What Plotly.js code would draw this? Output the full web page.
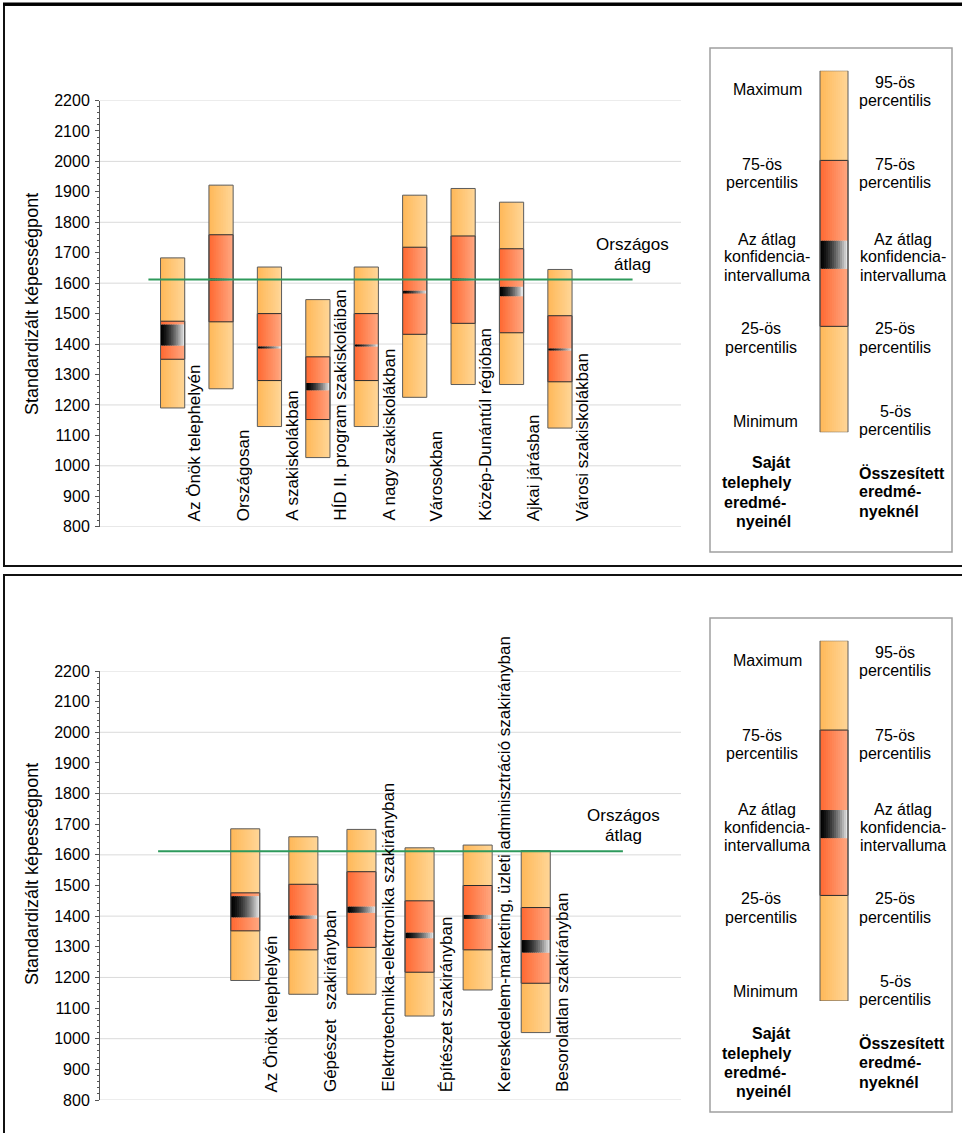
<!DOCTYPE html>
<html><head><meta charset="utf-8">
<script src="https://cdn.plot.ly/plotly-3.0.1.min.js"></script>
<style>body{margin:0;padding:0;background:#fff}#chart{width:962px;height:1133px}</style>
</head><body><div id="chart"></div>
<script>
// ---------- DATA ----------
const topCategories = ["Az Önök telephelyén","Országosan","A szakiskolákban","HÍD II. program szakiskoláiban","A nagy szakiskolákban","Városokban","Közép-Dunántúl régióban","Ajkai járásban","Városi szakiskolákban"];
const topPos    = [0,1,2,3,4,5,6,7,8];
const topLow    = [1190,1253,1129,1027,1129,1225,1267,1267,1124];
const topQ1     = [1350,1473,1280,1152,1280,1432,1468,1437,1276];
const topCILow  = [1395,1609,1386,1248,1392,1569,1609,1557,1379];
const topCIHigh = [1464,1615,1392,1272,1398,1575,1615,1588,1385];
const topQ3     = [1475,1759,1500,1358,1500,1718,1755,1713,1493];
const topHigh   = [1683,1922,1653,1546,1653,1889,1911,1866,1645];

const botCategories = ["Az Önök telephelyén","Gépészet\u00a0\u00a0szakirányban","Elektrotechnika-elektronika szakirányban","Építészet szakirányban","Kereskedelem-marketing, üzleti adminisztráció szakirányban","Besorolatlan szakirányban"];
const botPos    = [0,1,2,3,4,5];
const botLow    = [1190,1145,1145,1074,1159,1020];
const botQ1     = [1352,1290,1298,1217,1290,1181];
const botCILow  = [1396,1391,1411,1328,1391,1281];
const botCIHigh = [1465,1402,1431,1346,1404,1322];
const botQ3     = [1476,1504,1545,1450,1500,1428];
const botHigh   = [1685,1659,1683,1623,1632,1614];

const nationalAverage = 1612;
const avgLineTopX = [-0.5, 9.5];
const avgLineBotX = [-1.5, 6.5];

const yTickVals = [800,900,1000,1100,1200,1300,1400,1500,1600,1700,1800,1900,2000,2100,2200];
const gridVals  = [800,1000,1200,1400,1600,1800,2000,2200];

// legend key bar levels (schematic)
const keyLevels = [0, 29.3, 45.2, 53.0, 75.2, 100];

// ---------- HELPERS ----------
const FONT = 'Liberation Sans, Arial, Helvetica, sans-serif';
const W = 962, H = 1133;
const px = v => v / W;
const py = v => 1 - v / H;
const traces = [];
const annotations = [];
const shapes = [];
const N = 14;
const LIGHT = [[255,184,88],[255,214,152]];
const RED = [[255,104,48],[255,168,130]];
const CIC = [[0,0,0],[240,240,240]];
function mix(c, t){ const a=c[0], b=c[1]; return 'rgb('+[0,1,2].map(i=>Math.round(a[i]+(b[i]-a[i])*t)).join(',')+')'; }
const diff = (a,b) => a.map((v,i)=>v-b[i]);

function addBoxes(xs, lo, q1, cil, cih, q3, hi, xa, ya, bw){
  const sw = bw / N;
  const xx = xs.concat(xs);
  for (let k=0;k<N;k++){
    const t = (k+0.5)/N;
    const w = k < N-1 ? sw*1.6 : sw;
    const off = -bw/2 + k*sw;
    const common = {type:'bar', xaxis:xa, yaxis:ya, width:w, offset:off, hoverinfo:'skip', showlegend:false};
    traces.push(Object.assign({}, common, {x:xx, base:lo.concat(q3), y:diff(q1,lo).concat(diff(hi,q3)), marker:{color:mix(LIGHT,t), line:{width:0}}}));
    traces.push(Object.assign({}, common, {x:xx, base:q1.concat(cih), y:diff(cil,q1).concat(diff(q3,cih)), marker:{color:mix(RED,t), line:{width:0}}}));
    traces.push(Object.assign({}, common, {x:xs, base:cil, y:diff(cih,cil), marker:{color:mix(CIC, Math.pow(t,1.5)), line:{width:0}}}));
  }
  traces.push({type:'bar', xaxis:xa, yaxis:ya, x:xs, base:q1, y:diff(q3,q1), width:bw, offset:-bw/2,
    marker:{color:'rgba(0,0,0,0)', line:{color:'#2a2a2a', width:1}}, hoverinfo:'skip', showlegend:false});
  traces.push({type:'bar', xaxis:xa, yaxis:ya, x:xs, base:lo, y:diff(hi,lo), width:bw, offset:-bw/2,
    marker:{color:'rgba(0,0,0,0)', line:{color:'#5c5c5c', width:1}}, hoverinfo:'skip', showlegend:false});
}

addBoxes(topPos, topLow, topQ1, topCILow, topCIHigh, topQ3, topHigh, 'x', 'y', 0.5);
addBoxes(botPos, botLow, botQ1, botCILow, botCIHigh, botQ3, botHigh, 'x2', 'y2', 0.5);
addBoxes([0],[keyLevels[0]],[keyLevels[1]],[keyLevels[2]],[keyLevels[3]],[keyLevels[4]],[keyLevels[5]],'x3','y3',1);
addBoxes([0],[keyLevels[0]],[keyLevels[1]],[keyLevels[2]],[keyLevels[3]],[keyLevels[4]],[keyLevels[5]],'x4','y4',1);

// national average lines
traces.push({type:'scatter', mode:'lines', xaxis:'x', yaxis:'y', x:avgLineTopX, y:[nationalAverage,nationalAverage], line:{color:'#2e9a5c', width:2}, hoverinfo:'skip', showlegend:false});
traces.push({type:'scatter', mode:'lines', xaxis:'x2', yaxis:'y2', x:avgLineBotX, y:[nationalAverage,nationalAverage], line:{color:'#2e9a5c', width:2}, hoverinfo:'skip', showlegend:false});

// gridlines
gridVals.forEach(v => {
  ['y','y2'].forEach((ya,i) => {
    shapes.push({type:'line', xref:(i?'x2':'x')+' domain', yref:ya, x0:0, x1:1, y0:v, y1:v, line:{color:'#dadada', width:1}, layer:'below'});
  });
});

// category labels
const labelFont = {family:FONT, size:17, color:'#000'};
topCategories.forEach((c,i) => annotations.push({xref:'x', yref:'paper', x:topPos[i]+0.46, y:py(523), text:c, textangle:-90, showarrow:false, xanchor:'center', yanchor:'bottom', font:labelFont}));
botCategories.forEach((c,i) => annotations.push({xref:'x2', yref:'paper', x:botPos[i]+0.46, y:py(1094), text:c, textangle:-90, showarrow:false, xanchor:'center', yanchor:'bottom', font:labelFont}));

function txt(x, y, s, opts){ annotations.push(Object.assign({xref:'paper', yref:'paper', x:px(x), y:py(y), text:s, showarrow:false, xanchor:'center', yanchor:'middle', font:{family:FONT, size:16, color:'#000'}}, opts||{})); }

// axis titles and national average text
[0,570].forEach(o => {
  txt(32, 304+o, 'Standardizált képességpont', {textangle:-90, font:{family:FONT, size:18, color:'#000'}});
});
const avgFont = {font:{family:FONT, size:17, color:'#000'}};
txt(632, 245, 'Országos', avgFont); txt(632, 264, 'átlag', avgFont);
txt(623, 815, 'Országos', avgFont); txt(623, 835, 'átlag', avgFont);

// legend texts
const keyLeft = [["Maximum",767,90],["75-ös",762,165],["percentilis",762,183],["Az átlag",767,239],["konfidencia-",767,257],["intervalluma",767,275],["25-ös",761,328],["percentilis",761,347],["Minimum",765,421]];
const keyRight = [["95-ös",895,82],["percentilis",895,100],["75-ös",895,165],["percentilis",895,183],["Az átlag",903,239],["konfidencia-",903,257],["intervalluma",903,275],["25-ös",895,328],["percentilis",895,347],["5-ös",895,411],["percentilis",895,429]];
[0,570].forEach(o => {
  keyLeft.concat(keyRight).forEach(t => txt(t[1], t[2]+o, t[0]));
  txt(793, 463+o, '<b>Saját</b>', {xanchor:'right'});
  txt(793, 483+o, '<b>telephely</b>', {xanchor:'right'});
  txt(722, 502+o, '<b>eredmé-</b>', {xanchor:'left'});
  txt(793, 521+o, '<b>nyeinél</b>', {xanchor:'right'});
  txt(857, 473+o, '<b>Összesített</b>', {xanchor:'left'});
  txt(857, 492+o, '<b>eredmé-</b>', {xanchor:'left'});
  txt(857, 512+o, '<b>nyeknél</b>', {xanchor:'left'});
});

// frames
shapes.push({type:'rect', xref:'paper', yref:'paper', x0:px(4), x1:px(990), y0:py(5), y1:py(566), line:{color:'#111', width:2}});
shapes.push({type:'line', xref:'paper', yref:'paper', x0:px(3), x1:px(990), y0:py(4), y1:py(4), line:{color:'#000', width:3}});
shapes.push({type:'rect', xref:'paper', yref:'paper', x0:px(4), x1:px(990), y0:py(575), y1:py(1160), line:{color:'#111', width:2}});
shapes.push({type:'rect', xref:'paper', yref:'paper', x0:px(710), x1:px(952), y0:py(48), y1:py(552), line:{color:'#a0a0a0', width:1.5}});
shapes.push({type:'rect', xref:'paper', yref:'paper', x0:px(710), x1:px(952), y0:py(618), y1:py(1112), line:{color:'#a0a0a0', width:1.5}});

// axes
const yax = (dom, anchor) => ({domain:dom, anchor:anchor, range:[800,2200], tickvals:yTickVals, ticks:'outside', ticklen:4, tickwidth:1, tickcolor:'#555',
  showline:true, linecolor:'#555', linewidth:1, showgrid:false, zeroline:false, ticklabelstandoff:2,
  tickfont:{family:FONT, size:16, color:'#000'}, minor:{dtick:20, ticks:'outside', ticklen:2, tickcolor:'#555', showgrid:false}, fixedrange:true});
const hidden = (dom, range, anchor) => ({domain:dom, range:range, anchor:anchor, visible:false, fixedrange:true});

const layout = {
  width:W, height:H, margin:{l:0,r:0,t:0,b:0}, autosize:false,
  paper_bgcolor:'#fff', plot_bgcolor:'rgba(0,0,0,0)', barmode:'overlay', showlegend:false,
  font:{family:FONT, size:16, color:'#000'},
  xaxis: hidden([px(100), px(681)], [-1.5, 10.5], 'y'),
  yaxis: yax([py(526.7), py(100.5)], 'x'),
  xaxis2: hidden([px(100), px(681)], [-2.5, 7.5], 'y2'),
  yaxis2: yax([py(1100), py(671)], 'x2'),
  xaxis3: hidden([px(806), px(862)], [-1, 1], 'y3'),
  yaxis3: hidden([py(432.3), py(70.7)], [0, 100], 'x3'),
  xaxis4: hidden([px(806), px(862)], [-1, 1], 'y4'),
  yaxis4: hidden([py(1001), py(640.7)], [0, 100], 'x4'),
  shapes: shapes, annotations: annotations
};
Plotly.newPlot('chart', traces, layout, {displayModeBar:false, responsive:false});
</script></body></html>
